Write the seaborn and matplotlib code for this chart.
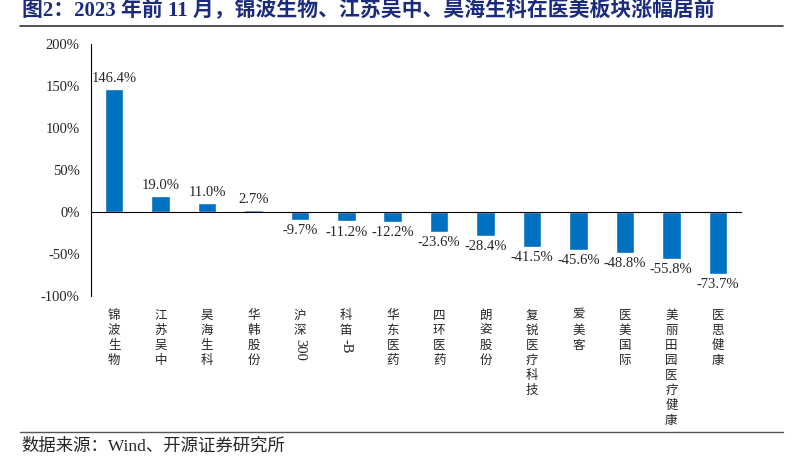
import matplotlib
matplotlib.use("Agg")
import matplotlib.pyplot as plt
import seaborn as sns
import pandas as pd
from matplotlib.lines import Line2D

# 数据
stocks = ["锦波生物", "江苏吴中", "昊海生科", "华韩股份", "沪深300", "科笛-B", "华东医药",
          "四环医药", "朗姿股份", "复锐医疗科技", "爱美客", "医美国际", "美丽田园医疗健康", "医思健康"]
change = [146.4, 19.0, 11.0, 2.7, -9.7, -11.2, -12.2, -23.6, -28.4, -41.5, -45.6, -48.8, -55.8, -73.7]
yticks = [-100, -50, 0, 50, 100, 150, 200]

title = "图2：2023 年前 11 月，锦波生物、江苏吴中、昊海生科在医美板块涨幅居前"
source = "数据来源：Wind、开源证券研究所"

df = pd.DataFrame({"stock": stocks, "change": change})

sns.set_style("white")
serif = ["Liberation Serif", "Noto Sans CJK SC"]
cjk = ["Noto Sans CJK SC", "DejaVu Sans"]
plt.rcParams["font.family"] = serif

fig = plt.figure(figsize=(8.03, 4.59), dpi=100)
ax = fig.add_axes([0.1133, 0.3551, 0.8095, 0.549])

sns.barplot(data=df, x="stock", y="change", color="#0070C0", width=0.4,
            saturation=1, ax=ax)

ax.set_ylim(-100, 200)
ax.set_xlim(-0.5, len(stocks) - 0.5)
ax.set_yticks(yticks)
ax.set_yticklabels([f"{v}%" for v in yticks], fontsize=10.5)
ax.set_xticks([i - 0.5 for i in range(len(stocks) + 1)])
ax.set_xticklabels([])
ax.tick_params(axis="both", direction="in", length=4, width=0.8, color="black")
ax.tick_params(axis="y", pad=8)
ax.set_xlabel("")
ax.set_ylabel("")

for s in ["top", "right"]:
    ax.spines[s].set_visible(False)
ax.spines["bottom"].set_position(("data", 0))
for s in ["left", "bottom"]:
    ax.spines[s].set_color("black")
    ax.spines[s].set_linewidth(0.8)

ax.bar_label(ax.containers[0], labels=[f"{v:.1f}%" for v in change],
             padding=3, fontsize=10.5, family=serif)

# 竖排类别标签
fs = 9
for i, name in enumerate(stocks):
    head = "".join(c for c in name if ord(c) > 127)
    tail = name[len(head):]
    ax.annotate("\n".join(head), xy=(i, 0), xycoords=("data", "axes fraction"),
                xytext=(0, -9), textcoords="offset points", ha="center", va="top",
                fontsize=fs, family=cjk, linespacing=1.2)
    if tail:
        ax.annotate(tail, xy=(i, 0), xycoords=("data", "axes fraction"),
                    xytext=(0, -9 - fs * 1.2 * len(head)), textcoords="offset points",
                    ha="center", va="top", rotation=-90, fontsize=10.5, family=serif)

fig.text(0.027, 0.953, title, fontsize=15, fontweight="bold", color="#1C2C7C",
         family=serif, ha="left", va="bottom")
fig.add_artist(Line2D([0.025, 0.975], [0.944, 0.944], color="#333333", lw=1.2,
                      transform=fig.transFigure))
fig.add_artist(Line2D([0.025, 0.975], [0.059, 0.059], color="#555555", lw=1.0,
                      transform=fig.transFigure))
fig.text(0.027, 0.026, source, fontsize=12.5, family=serif, ha="left", va="center")

fig.savefig("out.png", dpi=100)
